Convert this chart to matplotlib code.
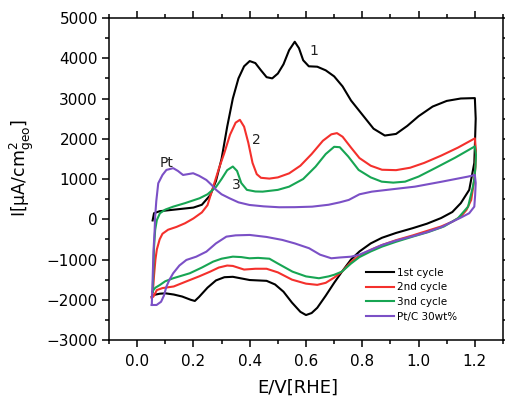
import matplotlib
matplotlib.use("Agg")
import matplotlib.pyplot as plt
from matplotlib.ticker import MultipleLocator

plt.rcParams['font.family'] = ['DejaVu Sans']

# ---------------- data ----------------
labels = ["1st cycle", "2nd cycle", "3nd cycle", "Pt/C 30wt%"]

c1_x = [0.055, 0.06, 0.08, 0.12, 0.16, 0.20, 0.23, 0.26, 0.28, 0.30, 0.32, 0.34, 0.36, 0.38, 0.40,
        0.42, 0.44, 0.46, 0.48, 0.50, 0.52, 0.54, 0.56, 0.575, 0.59, 0.61, 0.64, 0.67, 0.70, 0.73,
        0.76, 0.80, 0.84, 0.88, 0.92, 0.96, 1.00, 1.05, 1.10, 1.15, 1.20,
        1.203, 1.200, 1.198, 1.19, 1.18, 1.15, 1.12, 1.08, 1.03, 0.98, 0.92, 0.87, 0.83, 0.79,
        0.76, 0.728, 0.70, 0.67, 0.64, 0.62, 0.60, 0.58, 0.55, 0.52, 0.49, 0.46, 0.43, 0.40, 0.37,
        0.34, 0.31, 0.28, 0.25, 0.22, 0.205, 0.19, 0.16, 0.13, 0.10, 0.08, 0.06, 0.052]
c1_y = [-30, 150, 200, 230, 260, 290, 360, 600, 950, 1500, 2300, 3000, 3500, 3800, 3930,
        3880, 3700, 3530, 3500, 3620, 3850, 4200, 4410, 4250, 3950, 3800, 3790, 3700, 3550, 3300,
        2950, 2600, 2250, 2080, 2120, 2320, 2560, 2800, 2940, 3000, 3010,
        2500, 1800, 1400, 1100, 730, 400, 180, 30, -110, -220, -340, -460, -600, -800,
        -1000, -1300, -1580, -1900, -2200, -2330, -2380, -2300, -2070, -1800, -1620, -1530, -1520, -1510, -1470,
        -1430, -1440, -1520, -1700, -1930, -2030, -2000, -1920, -1870, -1840, -1850, -1880, -1920]

c2_x = [0.052, 0.056, 0.06, 0.065, 0.07, 0.08, 0.09, 0.11, 0.14, 0.17, 0.20, 0.23, 0.25, 0.27,
        0.29, 0.31, 0.33, 0.35, 0.365, 0.38, 0.395, 0.41, 0.425, 0.44, 0.47, 0.50, 0.54, 0.58,
        0.62, 0.66, 0.69, 0.71, 0.73, 0.76, 0.79, 0.83, 0.87, 0.92, 0.97, 1.02, 1.08, 1.14, 1.20,
        1.204, 1.202, 1.198, 1.187, 1.17, 1.15, 1.12, 1.08, 1.03, 0.98, 0.92, 0.87, 0.83, 0.79,
        0.76, 0.728, 0.70, 0.67, 0.64, 0.60, 0.55, 0.50, 0.46, 0.42, 0.38, 0.34, 0.32, 0.29,
        0.26, 0.22, 0.18, 0.13, 0.09, 0.07, 0.058, 0.052]
c2_y = [-1950, -1800, -1400, -1000, -750, -500, -360, -260, -190, -100, 20, 170, 350, 800,
        1250, 1650, 2100, 2400, 2470, 2300, 1900, 1400, 1120, 1030, 1010, 1040, 1140, 1330,
        1620, 1950, 2110, 2140, 2050, 1780, 1520, 1330, 1230, 1220, 1280, 1400, 1580, 1780, 2010,
        1700, 1300, 980, 480, 230, 65, -60, -180, -290, -400, -520, -640, -760, -900,
        -1060, -1300, -1450, -1580, -1630, -1600, -1500, -1320, -1230, -1230, -1250, -1160, -1150, -1200,
        -1300, -1420, -1530, -1670, -1710, -1760, -1920, -1950]

c3_x = [0.055, 0.058, 0.06, 0.064, 0.07, 0.081, 0.10, 0.128, 0.17, 0.222, 0.25, 0.28, 0.30,
        0.32, 0.34, 0.355, 0.37, 0.39, 0.42, 0.446, 0.50, 0.54, 0.59, 0.634, 0.67, 0.70, 0.72,
        0.75, 0.787, 0.83, 0.869, 0.91, 0.952, 1.00, 1.058, 1.13, 1.20,
        1.204, 1.202, 1.198, 1.193, 1.176, 1.14, 1.09, 1.034, 0.98, 0.92, 0.87, 0.83, 0.79, 0.76,
        0.728, 0.70, 0.68, 0.646, 0.60, 0.552, 0.50, 0.47, 0.43, 0.399, 0.37, 0.34, 0.30, 0.27,
        0.23, 0.187, 0.128, 0.10, 0.081, 0.065, 0.058, 0.055]
c3_y = [-1800, -1200, -700, -266, -20, 149, 240, 313, 400, 522, 620, 800, 1000,
        1220, 1310, 1200, 900, 730, 690, 686, 730, 810, 1000, 1307, 1620, 1800, 1790,
        1560, 1225, 1040, 934, 910, 934, 1060, 1267, 1530, 1810,
        1600, 1300, 1000, 810, 313, 25, -180, -320, -430, -560, -680, -800, -940, -1100,
        -1300, -1380, -1420, -1466, -1420, -1302, -1100, -980, -960, -970, -940, -929, -980, -1053,
        -1200, -1342, -1466, -1540, -1632, -1700, -1757, -1800]

pt_x = [0.052, 0.055, 0.058, 0.062, 0.064, 0.068, 0.075, 0.09, 0.104, 0.128, 0.145, 0.163,
        0.18, 0.199, 0.22, 0.246, 0.265, 0.281, 0.30, 0.328, 0.36, 0.399, 0.45, 0.505, 0.56,
        0.622, 0.68, 0.72, 0.752, 0.79, 0.834, 0.90, 0.987, 1.08, 1.175, 1.20,
        1.203, 1.201, 1.198, 1.18, 1.15, 1.12, 1.08, 1.03, 0.98, 0.92, 0.87, 0.83, 0.79, 0.76,
        0.72, 0.69, 0.65, 0.611, 0.56, 0.516, 0.46, 0.40, 0.35, 0.317, 0.28, 0.246, 0.21, 0.175,
        0.15, 0.128, 0.115, 0.104, 0.095, 0.085, 0.069, 0.052]
pt_y = [-2130, -1500, -800, -300, 65, 450, 894, 1100, 1225, 1270, 1200, 1100,
        1120, 1143, 1080, 976, 850, 728, 620, 522, 420, 355, 320, 298, 300,
        313, 360, 420, 480, 620, 686, 740, 810, 930, 1059, 1100,
        900, 600, 313, 150, 40, -60, -200, -320, -420, -530, -640, -760, -880, -930,
        -950, -970, -880, -720, -600, -514, -440, -390, -400, -432, -600, -805, -930, -1011,
        -1150, -1342, -1500, -1674, -1900, -2050, -2130, -2130]

series_x = [c1_x, c2_x, c3_x, pt_x]
series_y = [c1_y, c2_y, c3_y, pt_y]
colors = ["#000000", "#f4302c", "#17a553", "#7b50c6"]

notes = ["1", "2", "3", "Pt"]
notes_x = [0.628, 0.4225, 0.352, 0.105]
notes_y = [4190, 1970, 852, 1391]

# ---------------- figure ----------------
fig = plt.figure(figsize=(5.06, 3.98), dpi=100)
ax = fig.add_axes([109/506, 1-340/398, (503-109)/506, (340-18)/398])

for xs, ys, c, lab in zip(series_x, series_y, colors, labels):
    ax.plot(xs, ys, color=c, lw=1.5, label=lab, solid_joinstyle='round')

for t, x, y in zip(notes, notes_x, notes_y):
    ax.text(x, y, t, ha='center', va='center', fontsize=10, color='#222222')

ax.set_xlim(-0.1, 1.3)
ax.set_ylim(-3000, 5000)
ax.xaxis.set_major_locator(MultipleLocator(0.2))
ax.xaxis.set_minor_locator(MultipleLocator(0.1))
ax.yaxis.set_major_locator(MultipleLocator(1000))
ax.yaxis.set_minor_locator(MultipleLocator(500))
ax.set_xticks([0.0, 0.2, 0.4, 0.6, 0.8, 1.0, 1.2])
ax.set_xticklabels(["0.0", "0.2", "0.4", "0.6", "0.8", "1.0", "1.2"])

ax.tick_params(which='both', direction='out', top=True, right=True, width=1.1)
ax.tick_params(which='major', length=5, labelsize=11, pad=3)
ax.tick_params(which='minor', length=3)
ax.tick_params(axis='x', which='major', pad=5)
for s in ax.spines.values():
    s.set_linewidth(1.1)

ax.set_xlabel("E/V[RHE]", fontsize=13)
ax.xaxis.set_label_coords(0.48, -0.12)
ax.set_ylabel(r"I[μA/cm$\mathregular{^{2}_{geo}}$]", fontsize=12.5)
ax.yaxis.set_label_coords(-0.185, 0.535)

leg = ax.legend(loc='upper left', bbox_to_anchor=(0.652, 0.225), frameon=False,
                fontsize=7.5, handlelength=2.7, handletextpad=0.3, labelspacing=0.45,
                borderpad=0, borderaxespad=0)

fig.savefig("out.png", dpi=100)
